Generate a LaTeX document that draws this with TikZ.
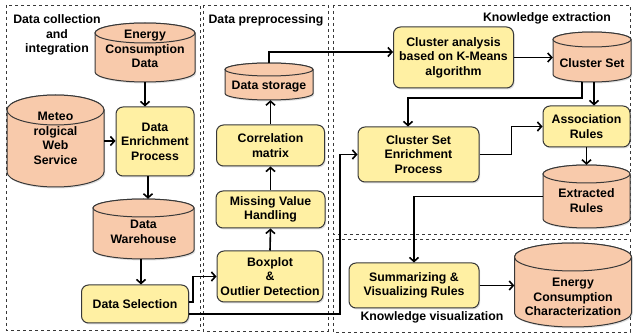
\documentclass[tikz,border=0pt]{standalone}
\usepackage{fontspec}
\setmainfont{Liberation Sans}
\usetikzlibrary{arrows.meta,shadows}
\definecolor{procfill}{HTML}{FFF0A3}
\definecolor{storefill}{HTML}{F8CAAB}
\definecolor{edgegray}{HTML}{383838}
\newcommand\txtdown[1]{\rule{0pt}{#1}}
\newcommand\txtup[1]{\rule[-#1]{0pt}{0pt}}
% storage drum: name, x, y, width, height, cap radius, text
\newcommand\storage[7]{%
  \filldraw[storebody] ({#2-#4/2},{#3-#5/2+#6}) -- ({#2-#4/2},{#3+#5/2-#6})
    arc[start angle=180, end angle=0, x radius=#4/2, y radius=#6]
    -- ({#2+#4/2},{#3-#5/2+#6})
    arc[start angle=0, end angle=-180, x radius=#4/2, y radius=#6] -- cycle;
  \filldraw[storecap] (#2,{#3-#5/2+#6}) ellipse[x radius=#4/2, y radius=#6];
  \node[storetext, minimum width=#4pt, minimum height=#5pt] (#1) at (#2,#3) {#7};
}
\tikzset{
  proc/.style={draw=edgegray, line width=1pt, fill=procfill, rounded corners=7pt,
    align=center, inner sep=0pt,
    drop shadow={shadow xshift=1.2pt, shadow yshift=-1.5pt, opacity=0.25}},
  storebody/.style={draw=edgegray, line width=1pt, fill=storefill,
    drop shadow={shadow xshift=1.2pt, shadow yshift=-1.5pt, opacity=0.25}},
  storecap/.style={draw=edgegray, line width=1pt, fill=storefill},
  storetext/.style={inner sep=0pt, align=center},
  flow/.style={line width=1.6pt, -{Straight Barb[length=4pt,width=9pt]}},
  area/.style={draw=edgegray, dashed, line width=0.7pt},
  areatitle/.style={align=center}
}
\begin{document}
\begin{tikzpicture}[x=1pt,y=-1pt,font=\fontsize{12.3}{14.5}\selectfont\bfseries]
\useasboundingbox (0,0) rectangle (633,334);
% areas
\draw[area] (6,5) rectangle (200,330);
\draw[area] (203,5) rectangle (328,331);
\draw[area] (333,5) rectangle (630,234);
\draw[area] (333,239) rectangle (630,332);
\node[areatitle] (tcollect) at (57,35) {Data collection\\and\\integration};
\node[areatitle] (tprep) at (266,20) {Data preprocessing};
\node[areatitle] (textract) at (547,18) {Knowledge extraction};
\node[areatitle] (tvisual) at (432,317) {Knowledge visualization};
% data collection and integration
\storage{ecd}{145}{52.5}{100}{59}{10}{Energy\\Consumption\\Data\txtup{7pt}}
\storage{meteo}{55.5}{141}{97}{92}{15}{Meteo\\rolgical\\Web\\Service\txtup{5pt}}
\node[proc, minimum width=78pt, minimum height=69pt] (der) at (155,141.5)
  {Data\\Enrichment\\Process};
\storage{dw}{143.5}{229}{101}{60}{9}{\txtdown{14pt}Data\\Warehouse}
\node[proc, minimum width=107pt, minimum height=38pt] (dsel) at (135,304) {Data Selection};
% data preprocessing
\node[proc, minimum width=106pt, minimum height=51pt] (box) at (270,276.5)
  {Boxplot\\\&\\Outlier Detection};
\node[proc, minimum width=109pt, minimum height=37pt] (miss) at (270.5,209.5)
  {Missing Value\\Handling};
\node[proc, minimum width=108pt, minimum height=41pt] (corr) at (270.5,145.5)
  {Correlation\\matrix};
\storage{dsto}{269}{81.5}{88}{37}{6.5}{\txtdown{18pt}Data storage}
% knowledge extraction
\node[proc, minimum width=120pt, minimum height=61pt] (ca) at (453.5,57.5)
  {Cluster analysis\\based on K-Means\\algorithm};
\storage{cs}{592}{57}{78}{50}{7.5}{\txtdown{21pt}Cluster Set}
\node[proc, minimum width=87pt, minimum height=41pt] (ar) at (586.5,126.5)
  {Association\\Rules};
\node[proc, minimum width=121pt, minimum height=55pt] (cse) at (418.5,154.5)
  {Cluster Set\\Enrichment\\Process};
\storage{er}{586.5}{196.5}{87}{63}{9}{\txtdown{17pt}Extracted\\Rules}
% knowledge visualization
\node[proc, minimum width=130pt, minimum height=45pt] (svr) at (414,285.5)
  {Summarizing \&\\Visualizing Rules};
\storage{ecc}{573}{285}{117}{84}{14}{\txtdown{33pt}Energy\\Consumption\\Characterization}
% connectors
\draw[flow] (ecd.south) -- (ecd.south |- der.north);
\draw[flow] (meteo.east) -- (meteo.east -| der.west);
\draw[flow] ([xshift=-7pt]der.south) -- ([xshift=-7pt]der.south |- dw.north);
\draw[flow] ([xshift=-2.5pt]dw.south) -- ([xshift=-2.5pt]dw.south |- dsel.north);
\draw[flow] ([yshift=2pt]dsel.east) -- ++(4,0) |- (box.west);
\draw[flow] ([yshift=-10pt]dsel.east) -- ++(151,0) |- (cse.west);
\draw[flow] (box.north) -- (miss.south);
\draw[flow] (miss.north) -- (corr.south);
\draw[flow] (corr.north) -- (corr.north |- dsto.south);
\draw[flow] (dsto.north) |- ([yshift=5.5pt]ca.west);
\draw[flow] (ca.east) -- (ca.east -| cs.west);
\draw[flow] ([xshift=-10pt]cs.south) -- ++(0,16) -| ([xshift=-10.5pt]cse.north);
\draw[flow] ([xshift=2pt]cs.south) -- ([xshift=2pt]cs.south |- ar.north);
\draw[flow] (cse.east) -- ++(32,0) |- (ar.west);
\draw[flow] (ar.south) -- (ar.south |- er.north);
\draw[flow] (er.west) -| (svr.north);
\draw[flow] (svr.east) -- (svr.east -| ecc.west);
\end{tikzpicture}
\end{document}
